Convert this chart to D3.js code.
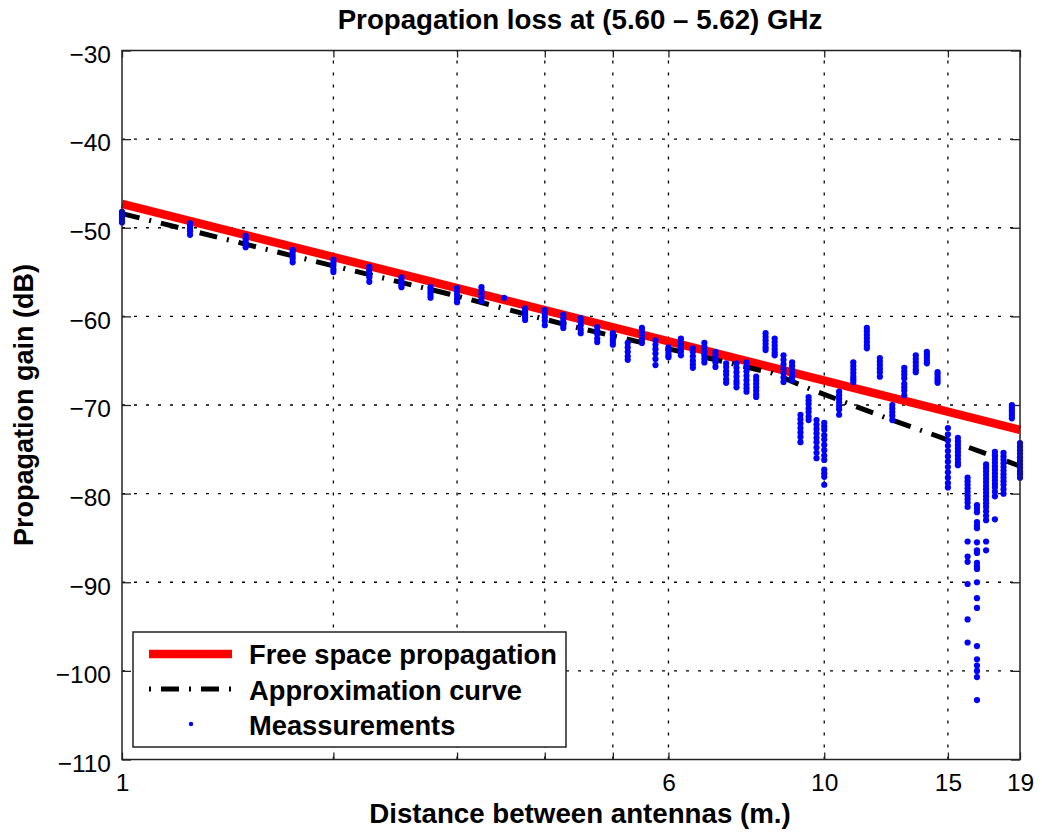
<!DOCTYPE html>
<html lang="en">

<head>
  <meta charset="utf-8">
  <title>Propagation loss</title>
  <script src="https://d3js.org/d3.v7.min.js"></script>
  <style>
    body {
      margin: 0;
      background: #fff;
    }

    svg text {
      font-family: "Liberation Sans", Arial, Helvetica, sans-serif;
      fill: #000;
    }
  </style>
</head>

<body>
  <script>
    // Tick values and labels
    const xTicks = [1, 2, 3, 4, 5, 6, 10, 15, 19];
    const xTickLabels = ["1", "", "", "", "", "6", "10", "15", "19"];
    const yTicks = [-110, -100, -90, -80, -70, -60, -50, -40, -30];

    // Free space propagation (straight line in log distance)
    const freeDist = [1, 19];
    const freeGain = [-47.3, -72.8];

    // Approximation curve
    const approxDist = [1, 2, 2.93, 4.36, 6.34, 8.43, 9.55, 12.2, 15.7, 17.7, 19];
    const approxGain = [-48.4, -54.3, -57.5, -61.1, -64.1, -66.4, -68.2, -71.4, -74.5, -76.0, -76.9];

    // Measurements: one distance per group, several gains per group
    const measDist = [1, 1.25, 1.5, 1.75, 2, 2.25, 2.5, 2.75, 3, 3.25, 3.5, 3.75, 4, 4.25, 4.5, 4.75,
      5, 5.25, 5.5, 5.75, 6, 6.25, 6.5, 6.75, 7, 7.25, 7.5, 7.75, 8, 8.25, 8.5, 8.75, 9, 9.25, 9.5,
      9.75, 10, 10.5, 11, 11.5, 12, 12.5, 13, 13.5, 14, 14.5, 15, 15.5, 16, 16.5, 17, 17.5, 18, 18.5, 19];
    const measGain = [
      [-48.2, -48.5, -48.8, -49.1, -49.4],
      [-49.5, -49.8, -50.1, -50.4, -50.8],
      [-50.9, -51.2, -51.5, -51.8, -52.2],
      [-52.5, -52.8, -53.2, -53.5, -53.9],
      [-53.6, -54.0, -54.3, -54.7, -55.0],
      [-54.4, -54.8, -55.2, -55.6, -56.1],
      [-55.6, -55.9, -56.2, -56.5, -56.7],
      [-56.7, -57.0, -57.3, -57.6, -57.9],
      [-56.8, -57.2, -57.6, -58.0, -58.4],
      [-56.7, -57.1, -57.5, -57.9, -58.3],
      [-57.9],
      [-59.1, -59.4, -59.8, -60.1, -60.4],
      [-59.3, -59.7, -60.1, -60.5, -61.0],
      [-59.8, -60.2, -60.6, -61.0, -61.3],
      [-60.2, -60.6, -61.0, -61.5, -61.9],
      [-61.2, -61.6, -62.0, -62.5, -62.9],
      [-61.9, -62.2, -62.6, -62.9, -63.2],
      [-63.0, -63.5, -64.0, -64.5, -64.9],
      [-61.3, -61.7, -62.1, -62.6, -63.0],
      [-62.7, -63.2, -63.7, -64.2, -64.8, -65.5],
      [-63.5, -63.8, -64.1, -64.4, -64.6],
      [-62.5, -62.9, -63.3, -63.7, -64.0, -64.4],
      [-63.6, -64.0, -64.5, -65.0, -65.4, -65.8],
      [-63.0, -63.4, -63.9, -64.4, -64.8, -65.2],
      [-64.0, -64.4, -64.8, -65.2, -65.7],
      [-65.3, -65.7, -66.2, -66.6, -67.1, -67.5],
      [-65.3, -65.8, -66.3, -66.8, -67.3, -67.6, -68.0],
      [-65.2, -65.7, -66.2, -66.7, -67.2, -67.7, -68.1, -68.5],
      [-66.8, -67.2, -67.6, -68.0, -68.4, -68.8, -69.1],
      [-61.9, -62.3, -62.7, -63.1, -63.5, -63.8],
      [-62.5, -62.9, -63.3, -63.7, -64.1, -64.4],
      [-64.4, -64.9, -65.4, -65.9, -66.4, -66.9, -67.4],
      [-65.2, -65.6, -66.0, -66.4, -66.8, -67.2],
      [-71.1, -71.6, -72.1, -72.6, -73.1, -73.6, -74.2],
      [-69.1, -69.5, -69.9, -70.4, -70.8, -71.3, -71.7],
      [-71.7, -72.2, -72.7, -73.2, -73.7, -74.2, -74.8, -75.4, -76.0],
      [-72.0, -72.4, -72.8, -73.4, -73.9, -74.5, -75.1, -75.7, -76.2, -77.3, -77.7, -78.1, -79.0],
      [-68.5, -68.9, -69.3, -69.7, -70.1, -70.5, -71.1],
      [-65.2, -65.6, -66.0, -66.4, -66.8, -67.1, -67.4],
      [-61.3, -61.7, -62.1, -62.5, -62.9, -63.3, -63.6],
      [-64.7, -65.1, -65.5, -65.9, -66.3, -66.8],
      [-70.0, -70.4, -70.8, -71.2, -71.7],
      [-65.8, -66.2, -66.6, -67.0, -67.6, -68.0, -68.4, -68.9],
      [-64.4, -64.8, -65.2, -65.6, -66.0, -66.3],
      [-64.0, -64.3, -64.6, -65.0, -65.3],
      [-66.3, -66.6, -66.9, -67.2, -67.5],
      [-72.6, -73.3, -74.0, -74.6, -75.2, -75.8, -76.4, -77.0, -77.6, -78.2, -78.8, -79.3],
      [-73.7, -74.1, -74.5, -74.9, -75.3, -75.7, -76.1, -76.5, -76.8],
      [-78.2, -78.6, -79.0, -79.4, -79.8, -80.2, -80.6, -81.0, -81.5, -85.4, -87.1, -87.7, -90.2, -94.2, -96.8],
      [-81.3, -81.7, -82.1, -83.2, -83.6, -83.9, -85.5, -86.4, -86.7, -87.8, -88.2, -88.5, -90.0, -91.8,
        -92.9, -97.2, -98.7, -99.4, -100.0, -100.7, -103.3],
      [-76.7, -77.1, -77.5, -77.9, -78.3, -78.7, -79.1, -79.5, -79.9, -80.3, -80.7, -81.1, -81.5, -82.0,
        -82.5, -83.0, -85.4, -86.4],
      [-75.3, -75.7, -76.1, -76.5, -76.9, -77.3, -77.7, -78.1, -78.5, -78.9, -79.3, -79.8, -80.3, -82.9],
      [-75.4, -75.8, -76.2, -76.6, -77.0, -77.4, -77.8, -78.2, -78.6, -79.0, -79.5, -80.0],
      [-70.0, -70.3, -70.6, -70.9, -71.2, -71.5],
      [-74.3, -74.7, -75.1, -75.5, -75.9, -76.3, -76.7, -77.1, -77.5, -77.8, -78.2]
    ];

    // Figure size and plot box
    var width = 1042;
    var height = 834;
    var margin = {
      top: 50.5,
      right: 22,
      bottom: 74.5,
      left: 122
    };
    var plotRight = width - margin.right;
    var plotBottom = height - margin.bottom;

    var svg = d3.select("body")
      .append("svg")
      .attr("width", width)
      .attr("height", height)
      .attr("viewBox", [0, 0, width, height]);

    var x = d3.scaleLog()
      .domain([1, 19])
      .range([margin.left, plotRight]);

    var y = d3.scaleLinear()
      .domain([-110, -30])
      .range([plotBottom, margin.top]);

    // Dotted grid
    var grid = svg.append("g")
      .attr("stroke", "#000")
      .attr("stroke-width", 1.3)
      .attr("stroke-dasharray", "3,9");

    grid.selectAll("line.vgrid")
      .data(xTicks.slice(1, -1))
      .enter()
      .append("line")
      .attr("class", "vgrid")
      .attr("x1", d => x(d))
      .attr("x2", d => x(d))
      .attr("y1", plotBottom)
      .attr("y2", margin.top);

    grid.selectAll("line.hgrid")
      .data(yTicks.slice(1, -1))
      .enter()
      .append("line")
      .attr("class", "hgrid")
      .attr("x1", margin.left)
      .attr("x2", plotRight)
      .attr("y1", d => y(d))
      .attr("y2", d => y(d));

    // Axes (ticks point inwards)
    var xAxis = svg.append("g")
      .attr("transform", "translate(0," + plotBottom + ")")
      .call(d3.axisBottom(x)
        .tickValues(xTicks)
        .tickFormat((d, i) => xTickLabels[i])
        .tickSizeInner(-7)
        .tickSizeOuter(0)
        .tickPadding(14));

    svg.append("g")
      .attr("transform", "translate(0," + margin.top + ")")
      .call(d3.axisTop(x)
        .tickValues(xTicks)
        .tickFormat("")
        .tickSizeInner(-7)
        .tickSizeOuter(0));

    var yAxis = svg.append("g")
      .attr("transform", "translate(" + margin.left + ",0)")
      .call(d3.axisLeft(y)
        .tickValues(yTicks)
        .tickFormat(d => d3.format("d")(d).replace("-", "\u2212"))
        .tickSizeInner(-9)
        .tickSizeOuter(0)
        .tickPadding(11));

    svg.append("g")
      .attr("transform", "translate(" + plotRight + ",0)")
      .call(d3.axisRight(y)
        .tickValues(yTicks)
        .tickFormat("")
        .tickSizeInner(-9)
        .tickSizeOuter(0));

    svg.selectAll(".domain").remove();
    svg.selectAll(".tick line")
      .attr("stroke", "#222")
      .attr("stroke-width", 1.3);

    xAxis.selectAll("text")
      .attr("font-size", 24.5)
      .attr("dy", "0.71em");
    yAxis.selectAll("text")
      .attr("font-size", 24.5)
      .attr("dy", "0.48em");

    // Free space line
    var line = d3.line()
      .x(d => x(d[0]))
      .y(d => y(d[1]));

    svg.append("path")
      .datum(d3.zip(freeDist, freeGain))
      .attr("fill", "none")
      .attr("stroke", "#ff0000")
      .attr("stroke-width", 8.5)
      .attr("d", line);

    // Approximation curve
    svg.append("path")
      .datum(d3.zip(approxDist, approxGain))
      .attr("fill", "none")
      .attr("stroke", "#000")
      .attr("stroke-width", 5)
      .attr("stroke-dasharray", "18,10,2,10")
      .attr("d", line);

    // Measurements
    var measPoints = measDist.flatMap((d, i) => measGain[i].map(g => [d, g]));

    svg.append("g")
      .selectAll("circle")
      .data(measPoints)
      .enter()
      .append("circle")
      .attr("cx", d => x(d[0]))
      .attr("cy", d => y(d[1]))
      .attr("r", 3.1)
      .attr("fill", "#0000ff");

    // Plot box
    svg.append("rect")
      .attr("x", margin.left)
      .attr("y", margin.top)
      .attr("width", plotRight - margin.left)
      .attr("height", plotBottom - margin.top)
      .attr("fill", "none")
      .attr("stroke", "#222")
      .attr("stroke-width", 1.5);

    // Title and axis labels
    svg.append("text")
      .attr("x", (margin.left + plotRight) / 2 + 9)
      .attr("y", 29)
      .attr("text-anchor", "middle")
      .attr("font-size", 27.7)
      .attr("font-weight", "bold")
      .text("Propagation loss at (5.60 \u2013 5.62) GHz");

    svg.append("text")
      .attr("x", (margin.left + plotRight) / 2 + 9)
      .attr("y", 823)
      .attr("text-anchor", "middle")
      .attr("font-size", 27.7)
      .attr("font-weight", "bold")
      .text("Distance between antennas (m.)");

    svg.append("text")
      .attr("transform", "translate(33," + (margin.top + plotBottom) / 2 + ") rotate(-90)")
      .attr("text-anchor", "middle")
      .attr("font-size", 27)
      .attr("font-weight", "bold")
      .text("Propagation gain (dB)");

    // Legend
    var legend = svg.append("g")
      .attr("transform", "translate(133,632)");

    legend.append("rect")
      .attr("width", 433)
      .attr("height", 115)
      .attr("fill", "#fff")
      .attr("stroke", "#222")
      .attr("stroke-width", 1.5);

    legend.append("line")
      .attr("x1", 16).attr("x2", 99)
      .attr("y1", 22).attr("y2", 22)
      .attr("stroke", "#ff0000")
      .attr("stroke-width", 8.5);

    legend.append("line")
      .attr("x1", 16).attr("x2", 99)
      .attr("y1", 57).attr("y2", 57)
      .attr("stroke", "#000")
      .attr("stroke-width", 5)
      .attr("stroke-dasharray", "2,10,18,10");

    legend.append("circle")
      .attr("cx", 58)
      .attr("cy", 92)
      .attr("r", 2.2)
      .attr("fill", "#0000ff");

    var legendText = ["Free space propagation", "Approximation curve", "Meassurements"];
    legend.selectAll("text")
      .data(legendText)
      .enter()
      .append("text")
      .attr("x", 116)
      .attr("y", (d, i) => 32 + i * 35.5)
      .attr("font-size", 27.3)
      .attr("font-weight", "bold")
      .text(d => d);
  </script>
</body>

</html>
